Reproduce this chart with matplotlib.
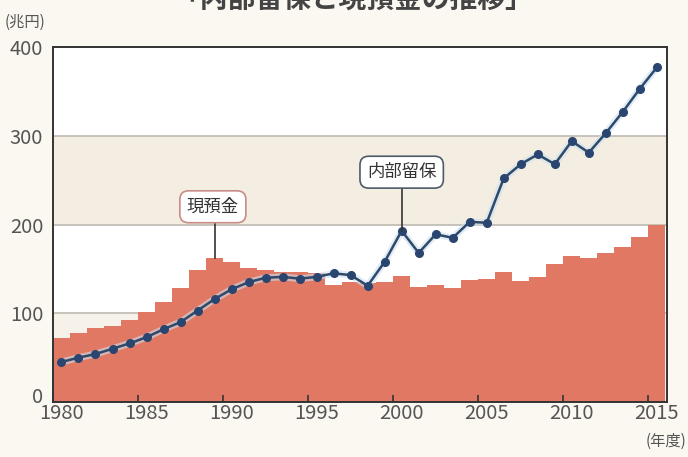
import numpy as np
import matplotlib.pyplot as plt
import matplotlib.transforms as mtransforms

plt.rcParams['font.family'] = ['Noto Sans CJK JP', 'DejaVu Sans']

# data (兆円)
years = list(range(1980, 2016))
cash = [72, 78, 83, 86, 92, 101, 113, 128, 149, 162,
        158, 151, 149, 147, 147, 145, 132, 135, 134, 135,
        142, 130, 132, 128, 137, 139, 146, 136, 141, 155,
        164, 162, 168, 175, 186, 199]
retained = [45, 50, 54, 60, 66, 73, 82, 90, 103, 116,
            127, 135, 140, 141, 139, 141, 145, 143, 131, 158,
            193, 168, 189, 185, 203, 202, 252, 268, 279, 268,
            294, 281, 303, 327, 353, 377]
x_ticks = [1980, 1985, 1990, 1995, 2000, 2005, 2010, 2015]
y_ticks = [0, 100, 200, 300, 400]

bg = "#fbf8f1"
bar_color = "#e07864"
line_color = "#2e4a6b"

fig = plt.figure(figsize=(6.88, 4.57), dpi=100, facecolor=bg)
ax = fig.add_axes([0.077, 0.1204, 0.8925, 0.7766])
ax.set_facecolor("white")

# horizontal bands
band_colors = ["#f6f2ea", "white", "#f3eee1", "white"]
for i, c in enumerate(band_colors):
    ax.axhspan(i * 100, (i + 1) * 100, color=c, zorder=0, lw=0)
for yv in [100, 200, 300]:
    ax.axhline(yv, color="#bdbab2", lw=1.2, zorder=0.5)

ax.bar(years, cash, width=1.0, align="edge", color=bar_color, lw=0, zorder=1)

xs = np.array(years) + 0.5
ax.plot(xs, retained, color="#cfe0f0", lw=5, alpha=0.6, zorder=2)
ax.plot(xs, retained, "-o", color=line_color, lw=1.8, markersize=5.5,
        markerfacecolor="#2a4670", markeredgecolor="#2a4670", zorder=3)

ax.set_xlim(1980, 2016.1)
ax.set_ylim(0, 400)
# tick marks at year start, labels centred under the year
ax.set_xticks(x_ticks)
ax.set_xticklabels([])
ax.set_xticks([t + 0.5 for t in x_ticks], minor=True)
ax.set_xticklabels([str(t) for t in x_ticks], minor=True)
ax.set_yticks(y_ticks)
ax.set_yticklabels([str(t) for t in y_ticks])
ax.tick_params(axis="x", which="major", direction="in", length=5, width=1.2,
               color="#333333")
ax.tick_params(axis="x", which="minor", length=0, labelsize=14.5,
               labelcolor="#555555", pad=1)
ax.tick_params(axis="y", length=0, labelsize=14.5, labelcolor="#555555", pad=7)
# nudge the "0" label up a little so it clears "1980"
zero_lbl = ax.get_yticklabels()[0]
zero_lbl.set_transform(zero_lbl.get_transform() +
                       mtransforms.ScaledTranslation(0, 5 / 72, fig.dpi_scale_trans))
for s in ax.spines.values():
    s.set_color("#333333")
    s.set_linewidth(1.4)
    s.set_zorder(5)

# annotations
ax.plot([1989.5, 1989.5], [162, 207], color="#333333", lw=1.2, zorder=4)
ax.text(1989.4, 220, "現預金", ha="center", va="center", fontsize=12.5,
        color="#333333", zorder=6,
        bbox=dict(boxstyle="round,pad=0.4,rounding_size=0.5", fc="white",
                  ec="#c98b86", lw=1.2))
ax.plot([2000.5, 2000.5], [193, 245], color="#333333", lw=1.2, zorder=4)
ax.text(2000.5, 259, "内部留保", ha="center", va="center", fontsize=12.5,
        color="#333333", zorder=6,
        bbox=dict(boxstyle="round,pad=0.4,rounding_size=0.5", fc="white",
                  ec="#4f5b6b", lw=1.2))

# unit labels and title
fig.text(0.006, 0.952, "(兆円)", fontsize=11, color="#555555", va="center", ha="left")
fig.text(0.997, 0.035, "(年度)", fontsize=11, color="#555555", va="center", ha="right")
fig.text(0.513, 1.0, "「内部留保と現預金の推移」", fontsize=20, fontweight="bold",
         color="#444444", ha="center", va="center")

fig.savefig("out.png", dpi=100, facecolor=bg)
